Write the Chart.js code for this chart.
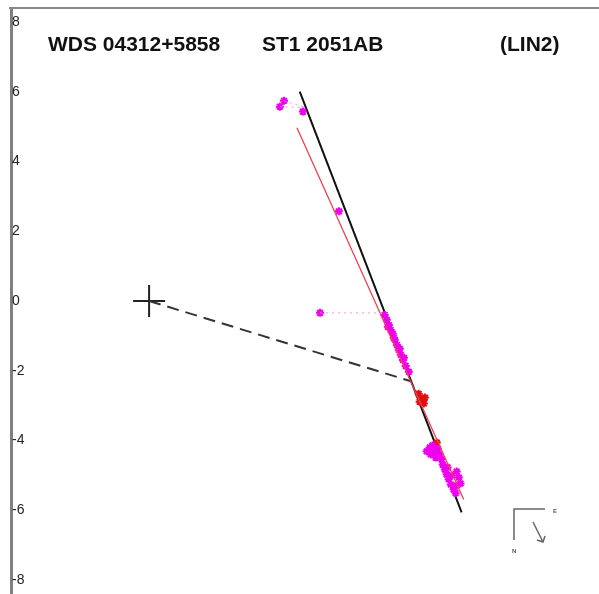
<!DOCTYPE html>
<html>
<head>
<meta charset="utf-8">
<script src="https://cdn.jsdelivr.net/npm/chart.js@4.4.0/dist/chart.umd.min.js"></script>
<style>
  body { margin: 0; background: #fff; }
  canvas { display: block; }
</style>
</head>
<body>
<canvas id="myChart" width="599" height="594"></canvas>
<script>
// units: arcsec, primary star at origin
const yTicks = [8, 6, 4, 2, 0, -2, -4, -6, -8];

const primary = [{ x: 0, y: 0 }];

const orbitLine = [{ x: 4.31, y: 6.0 }, { x: 8.94, y: -6.06 }];
const fitLine = [{ x: 4.23, y: 4.97 }, { x: 9.0, y: -5.69 }];
const periastronLine = [{ x: 0, y: 0 }, { x: 7.52, y: -2.31 }];

const obsPoints = [
  { x: 3.86, y: 5.74 }, { x: 3.74, y: 5.57 }, { x: 4.40, y: 5.43 },
  { x: 5.43, y: 2.57 }, { x: 4.89, y: -0.34 },
  { x: 6.74, y: -0.40 }, { x: 6.80, y: -0.54 }, { x: 6.86, y: -0.69 },
  { x: 6.91, y: -0.83 }, { x: 6.97, y: -0.94 }, { x: 7.03, y: -1.11 },
  { x: 7.09, y: -1.26 }, { x: 7.14, y: -1.40 }, { x: 7.20, y: -1.54 },
  { x: 7.26, y: -1.69 }, { x: 7.34, y: -1.86 }, { x: 7.43, y: -2.03 },
  { x: 6.83, y: -0.74 }, { x: 7.00, y: -1.06 }, { x: 7.17, y: -1.37 },
  { x: 7.29, y: -1.63 },
  { x: 7.94, y: -4.31 }, { x: 8.03, y: -4.20 }, { x: 8.11, y: -4.14 },
  { x: 8.06, y: -4.40 }, { x: 8.17, y: -4.31 }, { x: 8.26, y: -4.23 },
  { x: 8.20, y: -4.49 }, { x: 8.31, y: -4.40 }, { x: 8.37, y: -4.54 },
  { x: 8.40, y: -4.69 }, { x: 8.46, y: -4.83 }, { x: 8.51, y: -4.97 },
  { x: 8.57, y: -5.11 }, { x: 8.63, y: -5.26 }, { x: 8.71, y: -5.40 },
  { x: 8.77, y: -5.51 }, { x: 8.80, y: -4.89 }, { x: 8.86, y: -5.06 },
  { x: 8.91, y: -5.23 }, { x: 8.80, y: -5.29 }, { x: 8.66, y: -5.00 },
  { x: 8.54, y: -4.77 }
];

const redPoints = [
  { x: 7.71, y: -2.66 }, { x: 7.80, y: -2.80 }, { x: 7.86, y: -2.94 },
  { x: 7.74, y: -2.89 }, { x: 7.89, y: -2.77 }, { x: 8.23, y: -4.06 }
];

// residuals: observation -> orbit
const residuals = [
  [{ x: 3.86, y: 5.74 }, { x: 4.46, y: 5.55 }],
  [{ x: 3.74, y: 5.57 }, { x: 4.46, y: 5.55 }],
  [{ x: 4.89, y: -0.34 }, { x: 6.80, y: -0.34 }]
];

const datasets = [];
residuals.forEach(r => datasets.push({
  type: 'line', data: r, borderColor: 'rgba(240, 120, 240, 0.8)',
  borderWidth: 1, borderDash: [2, 4], pointRadius: 0
}));
datasets.push({
  type: 'line', data: fitLine, borderColor: '#f04050', borderWidth: 1.3, pointRadius: 0
});
datasets.push({
  data: obsPoints, pointStyle: 'star', pointRadius: 4,
  borderColor: '#ee00ee', backgroundColor: '#ee00ee', borderWidth: 2
});
datasets.push({
  data: redPoints, pointStyle: 'star', pointRadius: 4,
  borderColor: '#e01010', backgroundColor: '#e01010', borderWidth: 2
});
datasets.push({
  type: 'line', data: orbitLine, borderColor: '#111', borderWidth: 2, pointRadius: 0
});
datasets.push({
  type: 'line', data: periastronLine, borderColor: '#333', borderWidth: 2,
  borderDash: [12, 7], pointRadius: 0
});
datasets.push({
  data: primary, pointStyle: 'cross', pointRadius: 16,
  borderColor: '#222', borderWidth: 2
});

const decor = {
  id: 'decor',
  afterDraw(chart) {
    const ctx = chart.ctx;
    const a = chart.chartArea;
    ctx.save();
    // top frame line
    ctx.strokeStyle = '#888';
    ctx.lineWidth = 2;
    ctx.beginPath();
    ctx.moveTo(a.left - 2, a.top);
    ctx.lineTo(a.right, a.top);
    ctx.stroke();

    // header
    ctx.fillStyle = '#111';
    ctx.font = 'bold 21px "Liberation Sans", Arial, sans-serif';
    ctx.textBaseline = 'alphabetic';
    ctx.fillText('WDS 04312+5858', 48, 51);
    ctx.fillText('ST1 2051AB', 262, 51);
    ctx.fillText('(LIN2)', 500, 51);

    // orientation marker
    ctx.strokeStyle = '#666';
    ctx.lineWidth = 1.5;
    ctx.beginPath();
    ctx.moveTo(545, 509);
    ctx.lineTo(514, 509);
    ctx.lineTo(514, 540);
    ctx.moveTo(533, 522);
    ctx.lineTo(543, 542);
    ctx.moveTo(537, 540);
    ctx.lineTo(543, 542);
    ctx.lineTo(545, 536);
    ctx.stroke();
    ctx.fillStyle = '#555';
    ctx.font = 'bold 6px "Liberation Sans", Arial, sans-serif';
    ctx.fillText('E', 553, 513);
    ctx.fillText('N', 512, 553);
    ctx.restore();
  }
};

new Chart(document.getElementById('myChart'), {
  type: 'scatter',
  data: { datasets: datasets },
  options: {
    responsive: false,
    animation: false,
    layout: { autoPadding: false, padding: { left: 9, top: 8, right: 0, bottom: 0 } },
    plugins: { legend: { display: false }, tooltip: { enabled: false } },
    scales: {
      x: { display: false, min: -3.95, max: 12.87 },
      y: {
        min: -8.4, max: 8.4,
        afterBuildTicks: axis => { axis.ticks = yTicks.map(v => ({ value: v })); },
        afterFit: axis => { axis.paddingTop = 0; axis.paddingBottom = 0; },
        grid: { display: false, drawTicks: false },
        border: { display: true, color: '#808080', width: 3 },
        ticks: {
          mirror: true, padding: 1, color: '#222',
          font: { family: '"Liberation Sans", Arial, sans-serif', size: 14 }
        }
      }
    }
  },
  plugins: [decor]
});
</script>
</body>
</html>
